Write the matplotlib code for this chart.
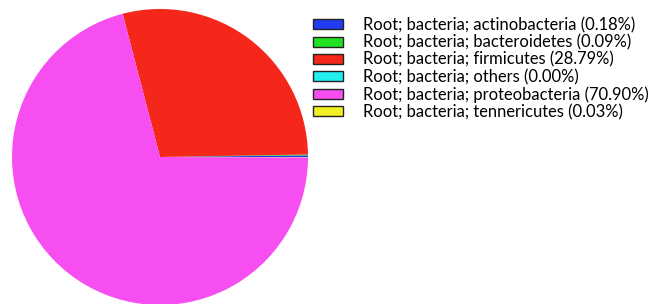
import matplotlib
matplotlib.use("Agg")
import matplotlib.pyplot as plt
from matplotlib.patches import Patch

# Data
labels = ['Root; bacteria; actinobacteria', 'Root; bacteria; bacteroidetes',
          'Root; bacteria; firmicutes', 'Root; bacteria; others',
          'Root; bacteria; proteobacteria', 'Root; bacteria; tennericutes']
percents = [0.18, 0.09, 28.79, 0.00, 70.90, 0.03]
colors = ['#1f3cf0', '#22e022', '#f5261a', '#22eeee', '#f74ef2', '#f2f022']

fig = plt.figure(figsize=(6.61, 3.04), dpi=100)
ax = fig.add_axes([12 / 661, -1 / 304, 296 / 661, 296 / 304])
ax.pie(percents, colors=colors, startangle=0, counterclock=True,
       wedgeprops=dict(linewidth=0))
ax.set_xlim(-1, 1)
ax.set_ylim(-1, 1)
ax.set_aspect('equal')
ax.axis('off')

# Legend
handles = [Patch(facecolor=c, edgecolor='#222222', linewidth=1.0) for c in colors]
texts = ['%s (%.2f%%)' % (l, p) for l, p in zip(labels, percents)]
fig.legend(handles, texts, loc='upper left', bbox_to_anchor=(313 / 661, 1 - 17 / 304),
           frameon=False, prop={'family': 'Lato', 'size': 11.9},
           handlelength=1.82, handleheight=0.55, labelspacing=0.07,
           handletextpad=1.2, borderaxespad=0, borderpad=0)

plt.savefig('out.png', dpi=100)
plt.close()
